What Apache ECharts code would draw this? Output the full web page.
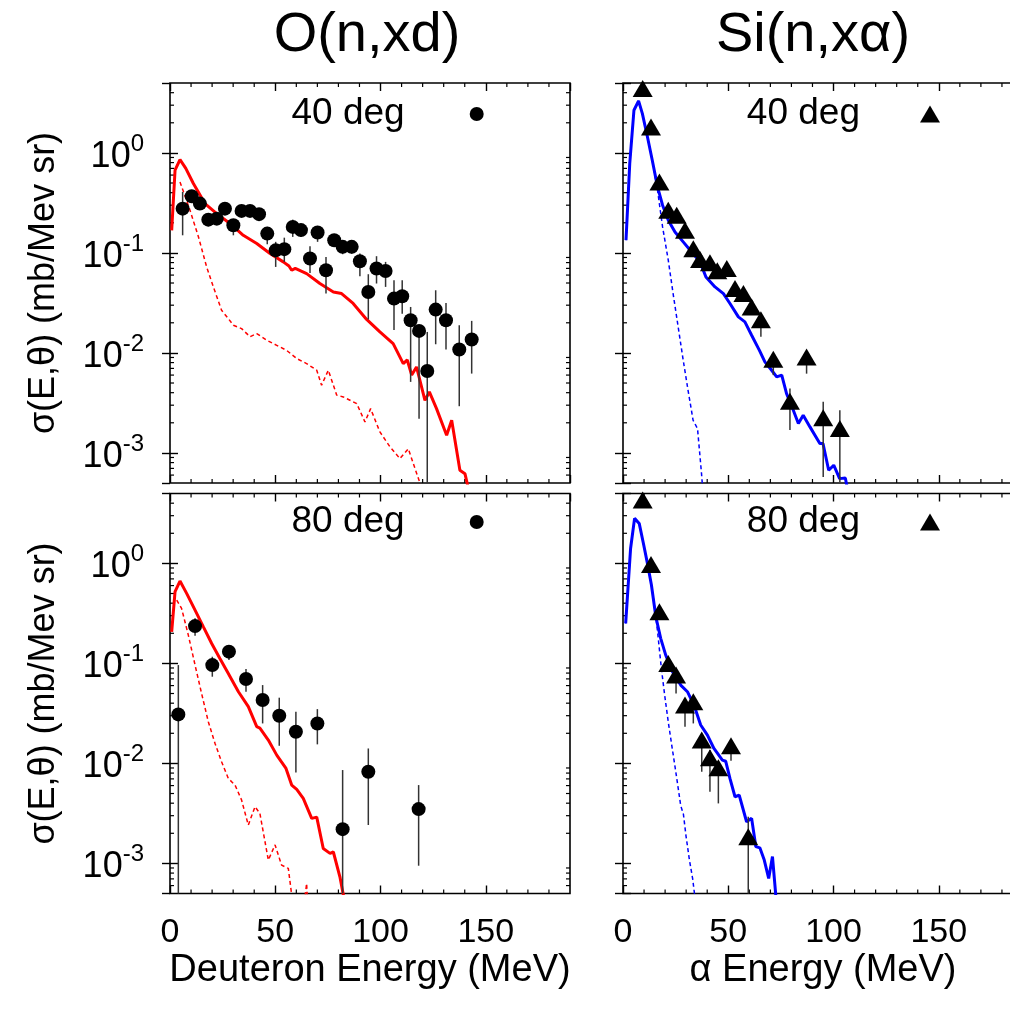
<!DOCTYPE html>
<html><head><meta charset="utf-8">
<script src="https://cdn.jsdelivr.net/npm/echarts@6/dist/echarts.min.js"></script>
<style>html,body{margin:0;padding:0;background:#fff}#c{width:1010px;height:1011px}</style>
</head><body><div id="c"></div><script>
// ---------- text ----------
const reactionTitles = ['O(n,xd)', 'Si(n,x\u03b1)'];
const angleLabels = ['40 deg', '80 deg'];
const xAxisNames = ['Deuteron Energy (MeV)', '\u03b1 Energy (MeV)'];
const yAxisName = '\u03c3(E,\u03b8) (mb/Mev sr)';
const xTickValues = [0, 50, 100, 150];
const yTickExponents = [0, -1, -2, -3];

// ---------- O(n,xd) 40 deg : experiment ----------
const od40X  = [6.0,10.3,14.2,18.2,22.2,26.1,30.1,34.0,38.0,42.3,46.2,50.2,54.3,58.3,62.2,66.5,70.1,74.1,78.0,82.0,86.3,90.2,94.2,98.1,102.4,106.4,110.3,114.3,118.3,122.2,126.2,131.1,137.4,143.3];
const od40Y  = [0.277,0.369,0.311,0.215,0.220,0.277,0.189,0.263,0.263,0.244,0.156,0.106,0.109,0.182,0.169,0.0878,0.160,0.0671,0.134,0.115,0.115,0.0825,0.0407,0.0697,0.066,0.0349,0.0369,0.0212,0.0166,0.0066,0.0271,0.0212,0.0108,0.0136];
const od40Hi = [0.407,0.423,0.349,0.244,0.248,0.311,0.212,0.293,0.288,0.271,0.182,0.129,0.142,0.215,0.194,0.1166,0.186,0.0912,0.154,0.134,0.134,0.0985,0.0612,0.0927,0.0813,0.0533,0.0533,0.0288,0.0189,0.0162,0.0423,0.0316,0.0189,0.0209];
const od40Lo = [0.150,0.316,0.277,0.185,0.194,0.244,0.150,0.238,0.238,0.215,0.122,0.0724,0.0813,0.1445,0.1445,0.063,0.129,0.0392,0.115,0.097,0.098,0.0585,0.0216,0.0494,0.0457,0.0169,0.0247,0.00513,0.0022,0.0002,0.0122,0.0108,0.00293,0.00621];
// calculation (solid) and pre-equilibrium part (dashed)
const odCalc40 = [[0.8,0.168],[2.4,0.671],[4.75,0.857],[7.5,0.70],[11.1,0.494],[16.6,0.311],[22.2,0.247],[28.5,0.197],[34.8,0.150],[41.2,0.124],[47.5,0.0985],[53.8,0.0813],[56.5,0.074],[57.8,0.067],[59.5,0.070],[64.9,0.062],[71.2,0.0494],[77.6,0.0407],[81.5,0.0392],[87.0,0.0312],[93.4,0.0216],[99.7,0.0162],[106.0,0.0124],[110.8,0.00782],[112.7,0.0085],[114.8,0.0060],[117.1,0.00724],[121.1,0.00336],[123.2,0.00407],[126.6,0.00277],[131.4,0.0015],[133.8,0.00212],[137.7,0.000671],[140.1,0.00062],[142.2,0.0004]];
const odPre40 = [[4.75,0.513],[9.5,0.267],[13.5,0.145],[17.4,0.0724],[20.6,0.0457],[24.5,0.0267],[27.7,0.022],[30.1,0.0189],[34.0,0.0175],[38.0,0.0145],[41.2,0.0156],[45.9,0.0134],[50.7,0.0119],[55.4,0.0106],[60.2,0.00878],[64.9,0.00782],[69.7,0.00671],[72.0,0.00475],[75.2,0.00671],[79.2,0.00378],[82.3,0.00363],[85.5,0.00336],[88.7,0.00311],[92.6,0.00204],[95.3,0.00277],[99.7,0.00162],[104.5,0.00115],[109.2,0.000877],[113.2,0.0011],[115.6,0.00078],[120.3,0.0004]];

// ---------- O(n,xd) 80 deg ----------
const od80X  = [3.96,11.9,20.1,28.0,36.1,44.0,51.9,59.8,70.0,82.0,94.2,118.1];
const od80Y  = [0.0309,0.236,0.0962,0.131,0.0697,0.043,0.030,0.0207,0.0251,0.0022,0.00825,0.00349];
const od80Hi = [0.0962,0.282,0.1166,0.1526,0.0878,0.0607,0.0454,0.0329,0.0349,0.00858,0.0141,0.00607];
const od80Lo = [0.0002,0.189,0.0736,0.108,0.0521,0.0251,0.015,0.00813,0.0155,0.0002,0.00242,0.000948];
const odCalc80 = [[0.8,0.207],[2.4,0.521],[4.75,0.666],[7.9,0.501],[11.9,0.341],[15.8,0.233],[19.8,0.158],[23.7,0.112],[27.7,0.0794],[32.5,0.0521],[37.2,0.0369],[41.2,0.0233],[42.7,0.0225],[46.7,0.0171],[50.7,0.0121],[55.1,0.00891],[57.8,0.00607],[60.2,0.0055],[63.3,0.00447],[67.3,0.00282],[69.7,0.0029],[72.8,0.00141],[76.0,0.00126],[77.6,0.0013],[80.7,0.000735],[83.1,0.0004]];
const odPre80 = [[3.2,0.43],[5.5,0.355],[8.7,0.192],[11.9,0.0962],[15.0,0.0501],[18.2,0.0261],[21.4,0.0158],[24.5,0.0104],[27.7,0.00708],[30.9,0.00607],[34.0,0.0043],[37.2,0.00242],[40.4,0.00369],[42.7,0.00316],[46.7,0.00108],[49.9,0.00153],[53.0,0.000962],[56.2,0.000891],[58.3,0.0004],[62.0,0.0002],[64.9,0.00063],[66.0,0.0002]];

// ---------- Si(n,xalpha) 40 deg ----------
const si40X  = [9.35,13.3,17.3,21.5,25.5,29.45,33.4,36.6,41.3,44.8,49.3,53.2,57.2,61.1,65.5,71.4,79.3,87.2,95.1,103.0];
const si40Y  = [4.40,1.82,0.513,0.267,0.238,0.168,0.110,0.0859,0.0795,0.0662,0.0697,0.0441,0.0392,0.0288,0.0215,0.00862,0.00328,0.00912,0.00225,0.00175];
const si40Hi = [4.6,1.95,0.55,0.285,0.255,0.18,0.118,0.092,0.085,0.071,0.075,0.048,0.043,0.031,0.0235,0.0095,0.0044,0.0097,0.00324,0.00267];
const si40Lo = [4.2,1.7,0.48,0.25,0.22,0.155,0.102,0.08,0.074,0.061,0.064,0.04,0.035,0.025,0.0145,0.006,0.00169,0.0062,0.000575,0.000513];
const siCalc40 = [[1.43,0.134],[3.2,0.78],[5.2,2.67],[7.4,3.31],[9.2,2.47],[11.6,1.45],[13.9,0.845],[16.4,0.457],[18.8,0.30],[21.5,0.212],[24.7,0.162],[28.6,0.129],[32.6,0.102],[36.6,0.0813],[39.4,0.0575],[43.7,0.0457],[47.7,0.0392],[50.8,0.0312],[54.8,0.0229],[57.9,0.0204],[61.1,0.015],[64.8,0.0106],[67.4,0.00813],[70.6,0.00671],[73.0,0.00575],[75.4,0.006],[77.7,0.00392],[80.9,0.00267],[83.3,0.00197],[85.6,0.00238],[88.8,0.00182],[93.5,0.00124],[95.0,0.00124],[97.7,0.000671],[100.1,0.000753],[102.9,0.000553],[105.6,0.00056],[107.0,0.0004]];
const siPre40 = [[1.43,0.134],[3.2,0.78],[5.2,2.67],[7.4,3.31],[9.2,2.47],[11.6,1.45],[13.9,0.845],[16.4,0.423],[18.8,0.182],[21.5,0.0845],[23.8,0.0392],[26.2,0.0182],[28.6,0.00845],[30.9,0.00423],[33.3,0.00212],[35.4,0.00175],[37.3,0.00062],[38.0,0.0004]];

// ---------- Si(n,xalpha) 80 deg ----------
const si80X  = [9.35,13.3,17.3,21.5,25.2,29.45,33.4,37.4,41.3,45.3,51.3,59.5];
const si80Y  = [4.30,0.977,0.329,0.100,0.0764,0.0383,0.0414,0.0171,0.0114,0.00906,0.015,0.00185];
const si80Hi = [4.5,1.05,0.35,0.108,0.082,0.041,0.044,0.0185,0.0136,0.0105,0.016,0.00293];
const si80Lo = [3.9,0.9,0.30,0.085,0.0501,0.0233,0.0251,0.00825,0.00521,0.00398,0.0106,0.0002];
const siCalc80 = [[1.27,0.251],[3.6,1.41],[5.5,2.82],[7.7,2.51],[9.7,1.58],[11.6,1.0],[13.5,0.607],[15.6,0.293],[17.9,0.178],[20.3,0.121],[23.5,0.0825],[27.4,0.0607],[30.6,0.0521],[33.7,0.0383],[36.9,0.0242],[40.1,0.0192],[43.2,0.0141],[47.2,0.0108],[48.8,0.0105],[50.8,0.00708],[53.2,0.00464],[55.2,0.00482],[58.7,0.00261],[61.1,0.00282],[63.1,0.00147],[65.0,0.00143],[67.1,0.00108],[69.2,0.000708],[71.0,0.00117],[72.9,0.0004]];
const siPre80 = [[1.27,0.251],[3.6,1.41],[5.5,2.82],[7.7,2.51],[9.7,1.58],[11.6,1.0],[13.5,0.607],[15.0,0.38],[16.5,0.20],[18.2,0.09],[19.8,0.048],[21.5,0.026],[23.2,0.015],[24.8,0.009],[26.3,0.0055],[27.4,0.0038],[28.7,0.0031],[29.9,0.0019],[31.5,0.0011],[33.1,0.0007],[34.5,0.0004]];

// ---------- build ----------
const FONT = '"Liberation Sans", Arial, Helvetica, sans-serif';
const X_MIN = 0, X_MAX = 190, Y_MIN = 5e-4, Y_MAX = 5;

const panels = [
  {x:od40X, y:od40Y, lo:od40Lo, hi:od40Hi, calc:odCalc40, pre:odPre40, color:'#ff0000', sym:'circle', angle:0},
  {x:si40X, y:si40Y, lo:si40Lo, hi:si40Hi, calc:siCalc40, pre:siPre40, color:'#0000ff', sym:'triangle', angle:0},
  {x:od80X, y:od80Y, lo:od80Lo, hi:od80Hi, calc:odCalc80, pre:odPre80, color:'#ff0000', sym:'circle', angle:1},
  {x:si80X, y:si80Y, lo:si80Lo, hi:si80Hi, calc:siCalc80, pre:siPre80, color:'#0000ff', sym:'triangle', angle:1}
];

const yMinor = [];
for (let k = -4; k <= 0; k++) for (let m = 2; m <= 9; m++) {
  const v = m * Math.pow(10, k);
  if (v > Y_MIN * 1.0001 && v < Y_MAX * 0.9999) yMinor.push([0, v]);
}
const xMinor = [];
for (let u = 10; u < X_MAX; u += 10) if (u % 50) xMinor.push([1, u]);
const minorData = yMinor.concat(xMinor);

function minorTickItem(params, api) {
  const cs = params.coordSys;
  const kind = api.value(0), v = api.value(1);
  const st = {stroke:'#000', lineWidth:1.2};
  const L = 4;
  if (kind === 0) {
    const y = api.coord([X_MIN, v])[1];
    return {type:'group', children:[
      {type:'line', shape:{x1:cs.x, y1:y, x2:cs.x + L, y2:y}, style:st},
      {type:'line', shape:{x1:cs.x + cs.width, y1:y, x2:cs.x + cs.width - L, y2:y}, style:st}
    ]};
  }
  const x = api.coord([v, 1])[0];
  return {type:'group', children:[
    {type:'line', shape:{x1:x, y1:cs.y + cs.height, x2:x, y2:cs.y + cs.height - L}, style:st},
    {type:'line', shape:{x1:x, y1:cs.y, x2:x, y2:cs.y + L}, style:st}
  ]};
}

function errorBarItem(params, api) {
  const cs = params.coordSys;
  const x = api.value(0);
  const p1 = api.coord([x, api.value(1)]);
  const p2 = api.coord([x, api.value(2)]);
  const clampY = (y) => Math.max(cs.y, Math.min(cs.y + cs.height, y));
  return {type:'line', shape:{x1:p1[0], y1:clampY(p1[1]), x2:p2[0], y2:clampY(p2[1])},
          style:{stroke:'#333', lineWidth:1.5}};
}

const grid = [], xAxis = [], yAxis = [], series = [], legend = [];
const tickStyle = {color:'#000', width:1.4};

panels.forEach((p, i) => {
  const col = i % 2, row = Math.floor(i / 2);
  grid.push({left: col ? 623 : 170, top: row ? 493.5 : 83, width: 400, height: 400,
    show: true, borderColor: '#000', borderWidth: 1.6, backgroundColor: 'transparent',
    containLabel: false, outerBoundsMode: 'none'});
  const xi = xAxis.length, yi = yAxis.length;
  // bottom x axis
  xAxis.push({gridIndex: i, type: 'value', min: X_MIN, max: X_MAX, interval: 50, position: 'bottom',
    axisLine: {show: false}, splitLine: {show: false},
    axisTick: {show: true, inside: true, length: 8, lineStyle: tickStyle},
    axisLabel: {show: row === 1, color: '#000', fontFamily: FONT, fontSize: 34, margin: 22,
      showMaxLabel: false, formatter: (v) => xTickValues.indexOf(v) >= 0 ? String(v) : ''},
    name: row === 1 ? xAxisNames[col] : '', nameLocation: 'middle', nameGap: 58,
    nameTextStyle: {color: '#000', fontFamily: FONT, fontSize: 38}});
  // top mirror x axis
  xAxis.push({gridIndex: i, type: 'value', min: X_MIN, max: X_MAX, interval: 50, position: 'top',
    axisLine: {show: false}, splitLine: {show: false}, axisLabel: {show: false},
    axisTick: {show: true, inside: true, length: 8, lineStyle: tickStyle}});
  // left log y axis
  yAxis.push({gridIndex: i, type: 'log', logBase: 10, min: Y_MIN, max: Y_MAX, position: 'left',
    axisLine: {show: false}, splitLine: {show: false},
    axisTick: {show: true, inside: true, length: 8, lineStyle: tickStyle},
    axisLabel: {show: col === 0, showMinLabel: false, showMaxLabel: false, margin: 26,
      padding: [8, 0, 0, 0],
      formatter: (v) => {
        const e = Math.round(Math.log10(v));
        return yTickExponents.indexOf(e) >= 0 ? '{b|10}{s|' + e + '}' : '';
      },
      rich: {
        b: {fontSize: 36, lineHeight: 50, fontFamily: FONT, color: '#000'},
        s: {fontSize: 24, lineHeight: 22, verticalAlign: 'top', fontFamily: FONT, color: '#000'}
      }},
    name: col === 0 ? yAxisName : '', nameLocation: 'middle', nameGap: 108,
    nameTextStyle: {color: '#000', fontFamily: FONT, fontSize: 36}});
  // right mirror y axis
  yAxis.push({gridIndex: i, type: 'log', logBase: 10, min: Y_MIN, max: Y_MAX, position: 'right',
    axisLine: {show: false}, splitLine: {show: false}, axisLabel: {show: false},
    axisTick: {show: true, inside: true, length: 8, lineStyle: tickStyle}});

  // minor ticks
  series.push({type: 'custom', xAxisIndex: xi, yAxisIndex: yi, silent: true, z: 1,
    renderItem: minorTickItem, data: minorData, encode: {x: 0, y: 1}});
  // pre-equilibrium (dashed)
  series.push({type: 'line', xAxisIndex: xi, yAxisIndex: yi, data: p.pre, showSymbol: false, symbol: 'none',
    silent: true, z: 2, lineStyle: {color: p.color, width: 1.5, type: [4, 3]}});
  // total calculation (solid)
  series.push({type: 'line', xAxisIndex: xi, yAxisIndex: yi, data: p.calc, showSymbol: false, symbol: 'none',
    silent: true, z: 3, lineStyle: {color: p.color, width: 3}});
  // error bars
  series.push({type: 'custom', xAxisIndex: xi, yAxisIndex: yi, silent: true, z: 4,
    renderItem: errorBarItem, encode: {x: 0, y: [1, 2]},
    data: p.x.map((x, k) => [x, p.lo[k], p.hi[k]])});
  // experiment
  series.push({type: 'scatter', name: angleLabels[p.angle], xAxisIndex: xi, yAxisIndex: yi, z: 5,
    symbol: p.sym, symbolSize: p.sym === 'circle' ? 14 : [20, 17],
    itemStyle: {color: '#000', opacity: 1}, data: p.x.map((x, k) => [x, p.y[k]])});

  const isCircle = p.sym === 'circle';
  legend.push({data: [{name: angleLabels[p.angle], icon: p.sym}], align: 'right', orient: 'horizontal',
    right: isCircle ? 526.3 : 70, top: (row ? 522 : 114) - 20, padding: 0,
    itemWidth: isCircle ? 14 : 20, itemHeight: isCircle ? 14 : 17, selectedMode: false,
    itemStyle: {opacity: 1},
    textStyle: {color: '#000', fontFamily: FONT, fontSize: 37, lineHeight: 40,
      padding: [0, isCircle ? 60 : 55, 0, 0]}});
});

const chart = echarts.init(document.getElementById('c'));
chart.setOption({
  animation: false,
  backgroundColor: '#fff',
  grid, xAxis, yAxis, series, legend,
  graphic: [
    {type: 'text', x: 367, y: 36, style: {text: reactionTitles[0], font: '56px ' + FONT, fill: '#000', align: 'center', verticalAlign: 'middle'}},
    {type: 'text', x: 813, y: 36, style: {text: reactionTitles[1], font: '56px ' + FONT, fill: '#000', align: 'center', verticalAlign: 'middle'}}
  ]
});
</script></body></html>
